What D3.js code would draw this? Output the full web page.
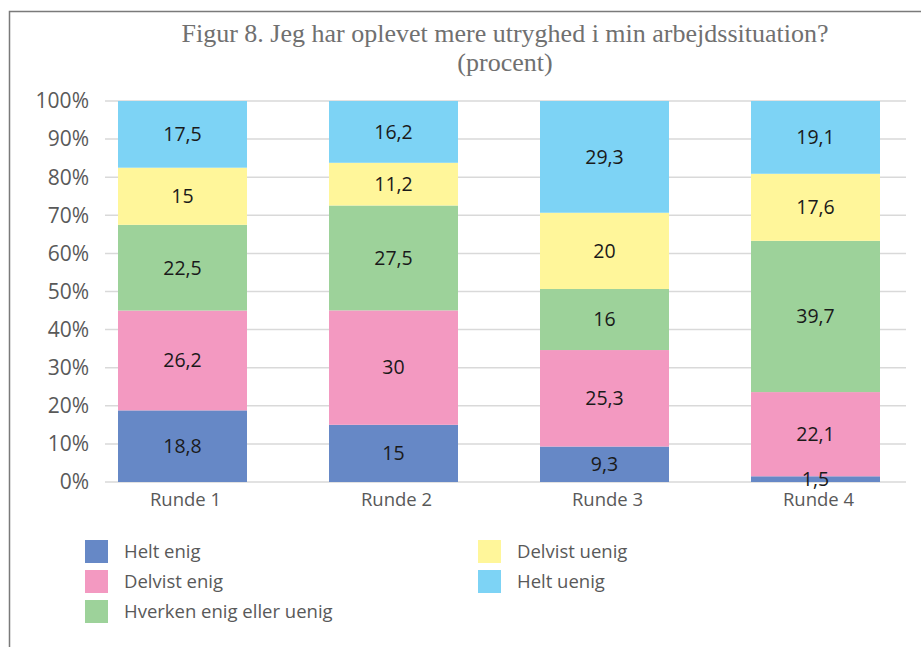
<!DOCTYPE html>
<meta charset="utf-8">
<head>
  <title>Figur 8</title>
</head>

<style>
body {
  margin: 0;
  background: #fff;
}

svg {
  display: block;
  font-family: "Open Sans", sans-serif;
}

.title {
  font-family: "Liberation Serif", serif;
  font-size: 26px;
  fill: #707070;
}

.grid line {
  stroke: #d9d9d9;
  stroke-width: 1.5;
}

.tick-label {
  font-size: 21px;
  fill: #595959;
}

.cat-label {
  font-size: 18.5px;
  fill: #595959;
}

.value-label {
  font-size: 19.5px;
  fill: #1a1a1a;
}

.legend text {
  font-size: 18.5px;
  fill: #595959;
}

.frame {
  fill: none;
  stroke: #7a7a7a;
  stroke-width: 1.5;
}
</style>

<body>
  <svg width="921" height="647"></svg>

  <script src="https://cdnjs.cloudflare.com/ajax/libs/d3/7.8.5/d3.min.js"></script>

  <script>
var rounds = ['Runde 1', 'Runde 2', 'Runde 3', 'Runde 4'];
var seriesNames = ['Helt enig', 'Delvist enig', 'Hverken enig eller uenig', 'Delvist uenig', 'Helt uenig'];
var heltEnig = [18.8, 15, 9.3, 1.5];
var delvistEnig = [26.2, 30, 25.3, 22.1];
var hverken = [22.5, 27.5, 16, 39.7];
var delvistUenig = [15, 11.2, 20, 17.6];
var heltUenig = [17.5, 16.2, 29.3, 19.1];
var yTicks = [0, 10, 20, 30, 40, 50, 60, 70, 80, 90, 100];
var titleLines = ['Figur 8. Jeg har oplevet mere utryghed i min arbejdssituation?', '(procent)'];

var colors = ['#6688c6', '#f399c1', '#9dd29a', '#fff69a', '#7dd3f5'];
var seriesValues = [heltEnig, delvistEnig, hverken, delvistUenig, heltUenig];

// table for d3.stack, normalised to 100 like a 100% stacked chart
var table = rounds.map(function(r, i) {
  var row = { round: r };
  var total = d3.sum(seriesValues, function(s) { return s[i]; });
  seriesNames.forEach(function(name, j) {
    row[name] = seriesValues[j][i] / total * 100;
    row[name + '_raw'] = seriesValues[j][i];
  });
  return row;
});

var stacked = d3.stack().keys(seriesNames)(table);

var svg = d3.select('svg');

var x = d3.scaleBand()
  .domain(rounds)
  .range([77, 921]);
var barWidth = 129;

var y = d3.scaleLinear()
  .domain([0, 100])
  .range([482, 101]);

// frame
svg.append('path')
  .attr('class', 'frame')
  .attr('d', 'M9.5,647 L9.5,11.5 L921,11.5');

// title
svg.append('text')
  .attr('class', 'title')
  .attr('text-anchor', 'middle')
  .selectAll('tspan')
  .data(titleLines)
  .enter()
  .append('tspan')
  .attr('x', 505)
  .attr('y', function(d, i) { return 42 + i * 29; })
  .text(function(d) { return d; });

// gridlines
svg.append('g')
  .attr('class', 'grid')
  .selectAll('line')
  .data(yTicks)
  .enter()
  .append('line')
  .attr('x1', 105)
  .attr('x2', 906)
  .attr('y1', function(d) { return y(d); })
  .attr('y2', function(d) { return y(d); });

svg.append('g')
  .selectAll('text')
  .data(yTicks)
  .enter()
  .append('text')
  .attr('class', 'tick-label')
  .attr('x', 89)
  .attr('y', function(d) { return y(d); })
  .attr('dy', '0.35em')
  .attr('text-anchor', 'end')
  .text(function(d) { return d + '%'; });

// bars
var layers = svg.append('g')
  .selectAll('g')
  .data(stacked)
  .enter()
  .append('g')
  .attr('fill', function(d, i) { return colors[i]; });

layers.selectAll('rect')
  .data(function(d) { return d; })
  .enter()
  .append('rect')
  .attr('x', function(d) { return x(d.data.round) + x.bandwidth() / 2 - barWidth / 2; })
  .attr('width', barWidth)
  .attr('y', function(d) { return y(d[1]); })
  .attr('height', function(d) { return y(d[0]) - y(d[1]); });

// value labels
stacked.forEach(function(layer) {
  svg.append('g')
    .selectAll('text')
    .data(layer)
    .enter()
    .append('text')
    .attr('class', 'value-label')
    .attr('x', function(d) { return x(d.data.round) + x.bandwidth() / 2; })
    .attr('y', function(d) { return y((d[0] + d[1]) / 2); })
    .attr('dy', '0.35em')
    .attr('text-anchor', 'middle')
    .text(function(d) { return String(d.data[layer.key + '_raw']).replace('.', ','); });
});

// category labels
svg.append('g')
  .selectAll('text')
  .data(rounds)
  .enter()
  .append('text')
  .attr('class', 'cat-label')
  .attr('x', function(d) { return x(d) + x.bandwidth() / 2 + 3; })
  .attr('y', 506)
  .attr('text-anchor', 'middle')
  .text(function(d) { return d; });

// legend
var legendPos = [[85, 540], [85, 570], [85, 600], [478, 540], [478, 570]];
var legend = svg.append('g')
  .attr('class', 'legend')
  .selectAll('g')
  .data(seriesNames)
  .enter()
  .append('g')
  .attr('transform', function(d, i) { return 'translate(' + legendPos[i][0] + ',' + legendPos[i][1] + ')'; });

legend.append('rect')
  .attr('width', 23)
  .attr('height', 23)
  .attr('fill', function(d, i) { return colors[i]; });

legend.append('text')
  .attr('x', 39)
  .attr('y', 12)
  .attr('dy', '0.35em')
  .text(function(d) { return d; });
  </script>
</body>
</html>
